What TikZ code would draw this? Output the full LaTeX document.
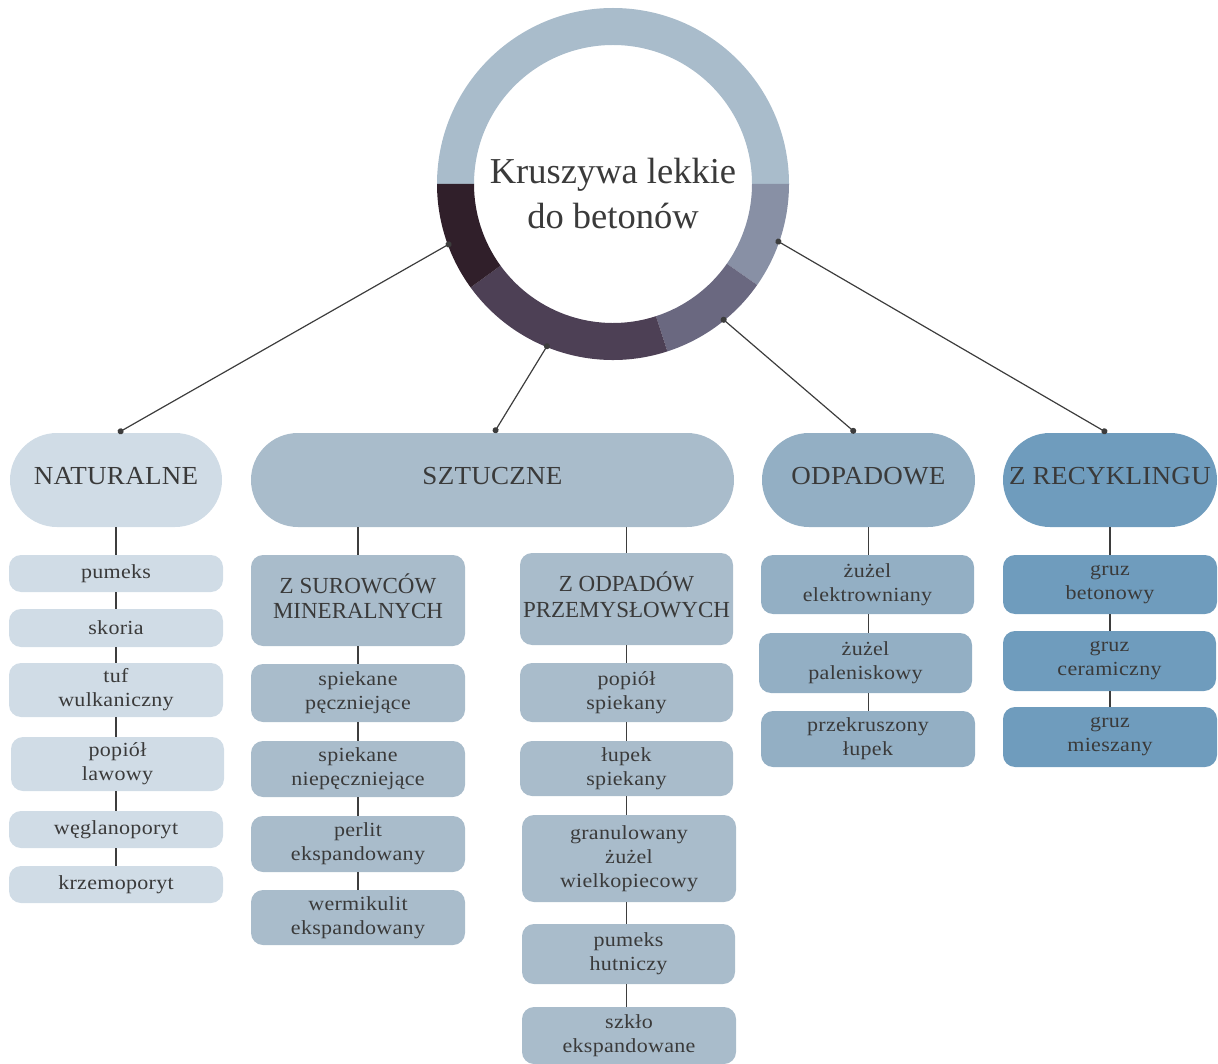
\documentclass[tikz,border=0pt]{standalone}
\usepackage{fontspec}
\setmainfont{Liberation Serif}
\newfontfamily\itemf[FakeStretch=1.1,LetterSpace=1.5]{Liberation Serif}
\newfontfamily\hdrf[FakeStretch=1.04,LetterSpace=1]{Liberation Serif}
\newfontfamily\subf{Liberation Serif}
\usetikzlibrary{calc,arrows.meta}
\definecolor{txt}{HTML}{3A3A3A}
\definecolor{cNat}{HTML}{D0DCE6}
\definecolor{cSzt}{HTML}{A9BCCB}
\definecolor{cOdp}{HTML}{93AFC4}
\definecolor{cRec}{HTML}{6F9CBD}
\definecolor{rA}{HTML}{A9BCCB}
\definecolor{rB}{HTML}{8890A5}
\definecolor{rC}{HTML}{6A6880}
\definecolor{rD}{HTML}{4D4055}
\definecolor{rE}{HTML}{301F2A}
\definecolor{lineC}{HTML}{3D3D3D}
\newcommand\bx[7]{\node[#6,minimum width=#4pt-#2pt,minimum height=#5pt-#3pt] (#1) at ({(#2+#4)/2},{(#3+#5)/2}) {#7};}
\newcommand\sector[3]{\fill[#3] ($(c)+(#1:176pt)$) arc[start angle=#1,end angle=#2,radius=176pt] -- ($(c)+(#2:139pt)$) arc[start angle=#2,end angle=#1,radius=139pt] -- cycle;}
\newcommand\dn{\rule[-9pt]{0pt}{9pt}}
\tikzset{
  hdr/.style={rectangle,rounded corners=47pt,inner sep=0pt,text=txt,text depth=8pt,font=\hdrf\fontsize{26}{30}\selectfont},
  sub/.style={rectangle,rounded corners=12pt,inner sep=0pt,text=txt,align=center,font=\subf\fontsize{23}{25.7}\selectfont},
  item/.style={rectangle,rounded corners=12pt,inner sep=0pt,text=txt,align=center,font=\itemf\fontsize{20}{24}\selectfont},
  conn/.style={draw=lineC,line width=1.2pt,{Circle[length=6pt,width=6pt]}-{Circle[length=6pt,width=6pt]}},
  vline/.style={draw=lineC,line width=1.2pt},
  ttl/.style={align=center,text=txt,inner sep=0pt,font=\fontsize{36.5}{45}\selectfont}
}
\begin{document}
\begin{tikzpicture}[x=1pt,y=-1pt]
\useasboundingbox (0,0) rectangle (1218,1064);
% ring
\coordinate (c) at (613,184);
\sector{0}{180}{rA}
\sector{-35}{0}{rB}
\sector{-72}{-35}{rC}
\sector{-144}{-72}{rD}
\sector{-180}{-144}{rE}
\node[circle,minimum size=344pt,inner sep=0pt] (ring) at (c) {};
\node[ttl] (title) at (613,193.5) {Kruszywa lekkie\\do betonów};
% main categories
\bx{nat}{10}{433}{222}{527}{hdr,fill=cNat}{NATURALNE}
\bx{szt}{251}{433}{734}{527}{hdr,fill=cSzt}{SZTUCZNE}
\bx{odp}{762}{433}{975}{527}{hdr,fill=cOdp}{ODPADOWE}
\bx{rec}{1003}{433}{1217}{527}{hdr,fill=cRec}{Z RECYKLINGU}
% naturalne
\bx{n1}{9}{555}{223}{592}{item,fill=cNat}{pumeks}
\bx{n2}{9}{609}{223}{647}{item,fill=cNat}{skoria}
\bx{n3}{9}{663}{223}{717}{item,fill=cNat}{tuf\\wulkaniczny}
\bx{n4}{11}{737}{224}{791}{item,fill=cNat}{popiół\\lawowy}
\bx{n5}{9}{811}{223}{848}{item,fill=cNat}{węglanoporyt}
\bx{n6}{9}{866}{223}{903}{item,fill=cNat}{krzemoporyt}
% sztuczne - left
\bx{sur}{251}{555}{465}{646}{sub,fill=cSzt}{Z SUROWCÓW\\MINERALNYCH\dn}
\bx{s1}{251}{664}{465}{722}{item,fill=cSzt}{spiekane\\pęczniejące}
\bx{s2}{251}{741}{465}{797}{item,fill=cSzt}{spiekane\\niepęczniejące}
\bx{s3}{251}{816}{465}{872}{item,fill=cSzt}{perlit\\ekspandowany}
\bx{s4}{251}{890}{465}{945}{item,fill=cSzt}{wermikulit\\ekspandowany}
% sztuczne - right
\bx{prz}{520}{553}{733}{645}{sub,fill=cSzt}{Z ODPADÓW\\PRZEMYSŁOWYCH\dn}
\bx{p1}{520}{663}{733}{722}{item,fill=cSzt}{popiół\\spiekany}
\bx{p2}{520}{741}{733}{796}{item,fill=cSzt}{łupek\\spiekany}
\bx{p3}{522}{815}{736}{902}{item,fill=cSzt}{granulowany\\żużel\\wielkopiecowy}
\bx{p4}{522}{924}{735}{984}{item,fill=cSzt}{pumeks\\hutniczy}
\bx{p5}{522}{1007}{736}{1064}{item,fill=cSzt}{szkło\\ekspandowane}
% odpadowe
\bx{o1}{761}{555}{974}{614}{item,fill=cOdp}{żużel\\elektrowniany}
\bx{o2}{759}{633}{972}{693}{item,fill=cOdp}{żużel\\paleniskowy}
\bx{o3}{761}{711}{975}{767}{item,fill=cOdp}{przekruszony\\łupek}
% recykling
\bx{r1}{1003}{555}{1217}{614}{item,fill=cRec}{gruz\\betonowy}
\bx{r2}{1003}{631}{1216}{691}{item,fill=cRec}{gruz\\ceramiczny}
\bx{r3}{1003}{707}{1217}{767}{item,fill=cRec}{gruz\\mieszany}
% connectors from ring
\draw[conn] (ring.-160.3) -- ([xshift=2pt]nat.north);
\draw[conn] (ring.-112.6) -- ([xshift=1.5pt]szt.north);
\draw[conn] (ring.-51) -- ([xshift=-13pt]odp.north);
\draw[conn] (ring.-19.7) -- ([xshift=-3pt]rec.north);
% vertical connectors
\draw[vline] (nat.south) -- (nat.south |- n1.north);
\draw[vline] (n1.south) -- (n1.south |- n2.north);
\draw[vline] (n2.south) -- (n2.south |- n3.north);
\draw[vline] (n3.south) -- (n3.south |- n4.north);
\draw[vline] (n4.south -| n3.south) -- (n5.north -| n3.south);
\draw[vline] (n5.south) -- (n5.south |- n6.north);
\draw[vline] (sur.north |- szt.south) -- (sur.north);
\draw[vline] (sur.south) -- (sur.south |- s1.north);
\draw[vline] (s1.south) -- (s1.south |- s2.north);
\draw[vline] (s2.south) -- (s2.south |- s3.north);
\draw[vline] (s3.south) -- (s3.south |- s4.north);
\draw[vline] (prz.north |- szt.south) -- (prz.north);
\draw[vline] (prz.south) -- (prz.south |- p1.north);
\draw[vline] (p1.south) -- (p1.south |- p2.north);
\draw[vline] (p2.south) -- (p2.south |- p3.north);
\draw[vline] (p3.south -| p2.south) -- (p4.north -| p2.south);
\draw[vline] (p4.south -| p2.south) -- (p5.north -| p2.south);
\draw[vline] (odp.south) -- (odp.south |- o1.north);
\draw[vline] (o1.south -| odp.south) -- (o2.north -| odp.south);
\draw[vline] (o2.south -| odp.south) -- (o3.north -| odp.south);
\draw[vline] (rec.south) -- (rec.south |- r1.north);
\draw[vline] (r1.south -| rec.south) -- (r2.north -| rec.south);
\draw[vline] (r2.south -| rec.south) -- (r3.north -| rec.south);
\end{tikzpicture}
\end{document}
